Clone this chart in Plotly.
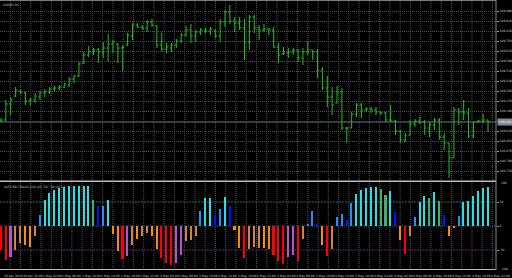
import plotly.graph_objects as go

# ---------------- data ----------------
bars = list(range(101))

opens = [109.112, 109.120, 109.248, 109.312, 109.352, 109.336, 109.272, 109.280, 109.304, 109.336,
         109.344, 109.368, 109.376, 109.384, 109.400, 109.448, 109.472, 109.576, 109.640, 109.664,
         109.680, 109.664, 109.696, 109.728, 109.728, 109.696, 109.720, 109.792, 109.880, 109.864,
         109.856, 109.904, 109.872, 109.720, 109.688, 109.696, 109.720, 109.752, 109.800, 109.840,
         109.792, 109.824, 109.840, 109.832, 109.840, 109.792, 109.904, 109.984, 109.912, 109.896,
         109.856, 109.744, 109.944, 109.856, 109.840, 109.848, 109.840, 109.704, 109.648, 109.656,
         109.664, 109.680, 109.616, 109.664, 109.680, 109.664, 109.520, 109.376, 109.304, 109.256,
         109.344, 109.056, 109.056, 109.168, 109.240, 109.200, 109.208, 109.200, 109.184, 109.176,
         109.120, 109.112, 109.032, 108.960, 109.000, 109.088, 109.112, 109.104, 109.056, 109.080,
         109.120, 108.984, 108.936, 108.816, 109.200, 109.184, 109.176, 108.992, 109.104, 109.112,
         109.120]
highs = [109.136, 109.280, 109.304, 109.384, 109.360, 109.344, 109.296, 109.336, 109.352, 109.368,
         109.384, 109.392, 109.400, 109.416, 109.464, 109.480, 109.584, 109.664, 109.712, 109.696,
         109.696, 109.744, 109.808, 109.760, 109.736, 109.720, 109.816, 109.896, 109.896, 109.880,
         109.920, 109.928, 109.880, 109.816, 109.736, 109.736, 109.768, 109.816, 109.872, 109.888,
         109.840, 109.856, 109.856, 109.864, 109.840, 109.928, 110.000, 110.040, 109.944, 109.944,
         109.928, 109.960, 109.960, 109.880, 109.888, 109.856, 109.864, 109.736, 109.704, 109.696,
         109.696, 109.688, 109.696, 109.752, 109.680, 109.688, 109.544, 109.472, 109.384, 109.392,
         109.376, 109.064, 109.184, 109.256, 109.256, 109.224, 109.224, 109.224, 109.184, 109.184,
         109.240, 109.120, 109.040, 109.016, 109.120, 109.128, 109.144, 109.120, 109.104, 109.136,
         109.136, 109.016, 108.936, 109.224, 109.216, 109.280, 109.216, 109.104, 109.120, 109.168,
         109.120]
lows = [109.104, 109.112, 109.160, 109.304, 109.328, 109.240, 109.240, 109.256, 109.280, 109.304,
        109.328, 109.352, 109.360, 109.376, 109.384, 109.416, 109.464, 109.568, 109.624, 109.640,
        109.576, 109.616, 109.592, 109.656, 109.576, 109.512, 109.712, 109.760, 109.856, 109.840,
        109.824, 109.864, 109.696, 109.672, 109.656, 109.664, 109.696, 109.736, 109.784, 109.736,
        109.744, 109.800, 109.816, 109.800, 109.776, 109.744, 109.864, 109.888, 109.824, 109.840,
        109.600, 109.680, 109.816, 109.760, 109.824, 109.800, 109.696, 109.576, 109.640, 109.616,
        109.640, 109.584, 109.560, 109.640, 109.600, 109.456, 109.360, 109.224, 109.160, 109.256,
        109.040, 108.936, 109.056, 109.144, 109.136, 109.184, 109.176, 109.160, 109.160, 109.104,
        109.104, 109.000, 108.936, 108.944, 109.000, 109.064, 109.088, 109.000, 108.984, 109.040,
        108.960, 108.880, 108.656, 108.816, 109.080, 109.120, 108.976, 108.976, 109.096, 109.096,
        109.024]
closes = [109.120, 109.248, 109.280, 109.360, 109.344, 109.272, 109.280, 109.312, 109.336, 109.344,
          109.368, 109.376, 109.384, 109.408, 109.448, 109.472, 109.568, 109.640, 109.664, 109.680,
          109.664, 109.696, 109.728, 109.744, 109.696, 109.704, 109.800, 109.880, 109.864, 109.856,
          109.904, 109.880, 109.720, 109.688, 109.704, 109.720, 109.752, 109.800, 109.840, 109.792,
          109.824, 109.840, 109.832, 109.848, 109.792, 109.904, 109.984, 109.912, 109.896, 109.856,
          109.744, 109.944, 109.856, 109.840, 109.848, 109.840, 109.704, 109.640, 109.656, 109.664,
          109.680, 109.616, 109.664, 109.680, 109.664, 109.520, 109.376, 109.304, 109.240, 109.344,
          109.056, 109.056, 109.168, 109.240, 109.200, 109.208, 109.200, 109.184, 109.176, 109.120,
          109.112, 109.032, 108.960, 109.000, 109.088, 109.112, 109.104, 109.056, 109.080, 109.120,
          108.984, 108.936, 108.816, 109.200, 109.184, 109.176, 108.992, 109.104, 109.112, 109.120,
          109.104]

hist_vals = [-49, -69, -64, -50, -35, -38, -43, -19, 23, 54,
             69, 76, 81, 83, 84, 84, 84, 84, 84, 56,
             42, 42, 54, -15, -51, -67, -62, -38, -26, -21,
             -14, -21, -47, -66, -76, -80, -76, -59, -31, -28,
             -19, 33, 59, 60, 23, 36, 61, 43, -7, -45,
             -66, -47, -43, -44, -45, -47, -60, -73, -78, -63,
             -60, -73, -27, 5, 33, 4, -38, -61, -47, 19,
             26, 13, 49, 67, 75, 81, 83, 82, 78, 66,
             74, 29, -28, -57, -21, 19, 51, 63, 59, 71,
             53, 24, -19, -3, 22, 51, 53, 63, 74, 79,
             82]
hist_cols = ["R", "R", "V", "P", "P", "O", "O", "P", "DB", "C",
             "C", "C", "C", "C", "C", "C", "C", "C", "C", "G",
             "B", "DB", "C", "O", "O", "R", "V", "P", "O", "P",
             "P", "O", "O", "R", "R", "R", "V", "V", "P", "P",
             "P", "DB", "C", "C", "B", "DB", "C", "B", "O", "O",
             "R", "P", "P", "P", "O", "O", "R", "R", "R", "V",
             "V", "R", "P", "DB", "DB", "B", "O", "R", "P", "DB",
             "DB", "B", "DB", "C", "C", "C", "C", "C", "G", "G",
             "C", "B", "O", "R", "P", "DB", "C", "C", "G", "C",
             "G", "B", "O", "P", "DB", "C", "C", "C", "C", "C",
             "C"]

price_ticks = [109.990, 109.910, 109.830, 109.750, 109.670, 109.590, 109.510, 109.430,
               109.350, 109.270, 109.190, 109.110, 109.030, 108.950, 108.870, 108.790, 108.710]
osc_ticks = [50, 0, -50]
osc_levels = [50, -50]
time_label_bars = [0, 4, 8, 12, 16, 20, 24, 28, 32, 36, 40, 44, 48, 52, 56, 60, 64, 68, 72, 76,
                   80, 84, 88, 92, 96, 100]
time_labels = ["30 Apr 2018", "30 Apr 22:00", "1 May 02:00", "1 May 06:00", "1 May 10:00",
               "1 May 14:00", "1 May 18:00", "1 May 22:00", "2 May 02:00", "2 May 06:00",
               "2 May 10:00", "2 May 14:00", "2 May 18:00", "2 May 22:00", "3 May 02:00",
               "3 May 06:00", "3 May 10:00", "3 May 14:00", "3 May 18:00", "3 May 22:00",
               "4 May 02:00", "4 May 06:00", "4 May 10:00", "4 May 14:00", "4 May 18:00",
               "4 May 22:00"]

# ---------------- style ----------------
colmap = {"C": "#1fe3e6", "DB": "#1e90ff", "B": "#0a10ff", "G": "#3cb371",
          "O": "#ff8c00", "P": "#cd853f", "R": "#ff0000", "V": "#b452d0"}
GREEN = "#1fc01f"
GRID = "#4a5057"
GDASH = "1px,1px"
TXT = "#c8c8c8"
FONT = "DejaVu Sans"
W, H = 512, 278
PW, PH = 496, 270          # plot area in px
TOP_END = 180.7            # px where upper pane ends
LOW_START = 181.6          # px where lower pane starts

fig = go.Figure()
fig.add_trace(go.Ohlc(x=bars, open=opens, high=highs, low=lows, close=closes,
                      increasing_line_color=GREEN, decreasing_line_color=GREEN,
                      line_width=1, tickwidth=0.36, xaxis="x", yaxis="y",
                      showlegend=False, hoverinfo="skip"))
fig.add_trace(go.Bar(x=bars, y=hist_vals, marker_color=[colmap[c] for c in hist_cols],
                     marker_line_width=0, width=0.32, xaxis="x2", yaxis="y2",
                     showlegend=False, hoverinfo="skip"))

xr = [-0.205, 101.64]
fig.update_layout(
    width=W, height=H, margin=dict(l=0, r=W - PW, t=0, b=H - PH),
    paper_bgcolor="black", plot_bgcolor="black",
    font=dict(family=FONT, size=3, color=TXT),
    bargap=0,
    xaxis=dict(domain=[0, 1], range=xr, anchor="y", showticklabels=False, showgrid=False,
               zeroline=False, rangeslider=dict(visible=False), fixedrange=True),
    yaxis=dict(domain=[1 - TOP_END / PH, 1], range=[110.080 - 0.008 * TOP_END, 110.080],
               side="right", tickvals=price_ticks, ticktext=[f"{v:.3f}" for v in price_ticks],
               ticks="outside", ticklen=2, tickcolor="#9a9a9a", tickfont=dict(size=3, color=TXT),
               showgrid=True, gridcolor=GRID, griddash=GDASH, gridwidth=1, zeroline=False),
    xaxis2=dict(domain=[0, 1], range=xr, anchor="y2", showticklabels=False, showgrid=False,
                zeroline=False),
    yaxis2=dict(domain=[0, 1 - LOW_START / PH], range=[-(PH - 226) / 0.48, (226 - LOW_START) / 0.48],
                side="right", tickvals=osc_ticks, ticktext=[str(v) for v in osc_ticks],
                ticks="outside", ticklen=2, tickcolor="#9a9a9a", tickfont=dict(size=3, color=TXT),
                showgrid=False, zeroline=False),
)

shapes = []
# vertical grid (px spacing of the terminal grid)
gx = 10.26
while gx < PW - 1:
    shapes.append(dict(type="line", xref="paper", yref="paper", x0=gx / PW, x1=gx / PW,
                       y0=0, y1=1, line=dict(color=GRID, width=1, dash=GDASH), layer="below"))
    gx += 10.26
# lower pane grid line at 0
shapes.append(dict(type="line", xref="paper", yref="y2", x0=0, x1=1, y0=0, y1=0,
                   line=dict(color=GRID, width=1, dash=GDASH), layer="below"))
# oscillator levels
for lv, col in zip(osc_levels, ["#2e6a44", "#6a1f7a"]):
    shapes.append(dict(type="line", xref="paper", yref="y2", x0=0, x1=1, y0=lv, y1=lv,
                       line=dict(color=col, width=1, dash="2px,1px"), layer="below"))
# bid line
shapes.append(dict(type="line", xref="paper", yref="y", x0=0, x1=1, y0=closes[-1], y1=closes[-1],
                   line=dict(color="#5f6a76", width=1), layer="below"))
# borders
shapes.append(dict(type="line", xref="paper", yref="paper", x0=0, x1=1, y0=1 - 0.5 / PH, y1=1 - 0.5 / PH,
                   line=dict(color="#7a7a7a", width=1)))
shapes.append(dict(type="line", xref="paper", yref="paper", x0=0, x1=1,
                   y0=1 - (TOP_END + 0.5) / PH, y1=1 - (TOP_END + 0.5) / PH,
                   line=dict(color="#bdbdbd", width=1.5)))
shapes.append(dict(type="line", xref="paper", yref="paper", x0=0, x1=1, y0=0.5 / PH, y1=0.5 / PH,
                   line=dict(color="#bdbdbd", width=1)))
shapes.append(dict(type="line", xref="paper", yref="paper", x0=1, x1=1, y0=0, y1=1,
                   line=dict(color="#8a8a8a", width=1)))
fig.update_layout(shapes=shapes)

ann = []
ann.append(dict(xref="paper", yref="paper", x=0.002, y=0.998, xanchor="left", yanchor="top",
                text="USDJPY,H1", showarrow=False, font=dict(size=3, color=TXT)))
ann.append(dict(xref="paper", yref="paper", x=0.004, y=1 - (LOW_START + 1) / PH, xanchor="left",
                yanchor="top", text="SuFX RSI Trend Cycle (25, 50, -50) 82.17", showarrow=False,
                font=dict(size=3, color=TXT)))
# current price tag
ann.append(dict(xref="paper", yref="y", x=1, y=closes[-1], xanchor="left", yanchor="middle",
                text=f"{closes[-1]:.3f}", showarrow=False, bgcolor="#7d8a97",
                font=dict(size=3, color="white"), borderpad=1, xshift=1))
# edge values of oscillator scale
ann.append(dict(xref="paper", yref="paper", x=1, y=1 - (LOW_START + 1.5) / PH, xanchor="left",
                yanchor="middle", text="100", showarrow=False, xshift=3, font=dict(size=3, color=TXT)))
ann.append(dict(xref="paper", yref="paper", x=1, y=0.004, xanchor="left",
                yanchor="middle", text="-100", showarrow=False, xshift=3, font=dict(size=3, color=TXT)))
# time labels (left-aligned like the terminal)
for b, t in zip(time_label_bars, time_labels):
    ann.append(dict(xref="x2", yref="paper", x=b, y=0, xanchor="left", yanchor="top",
                    text=t, showarrow=False, yshift=-1.5, xshift=1, font=dict(size=3, color=TXT)))
fig.update_layout(annotations=ann)

fig.write_html("out.html")
